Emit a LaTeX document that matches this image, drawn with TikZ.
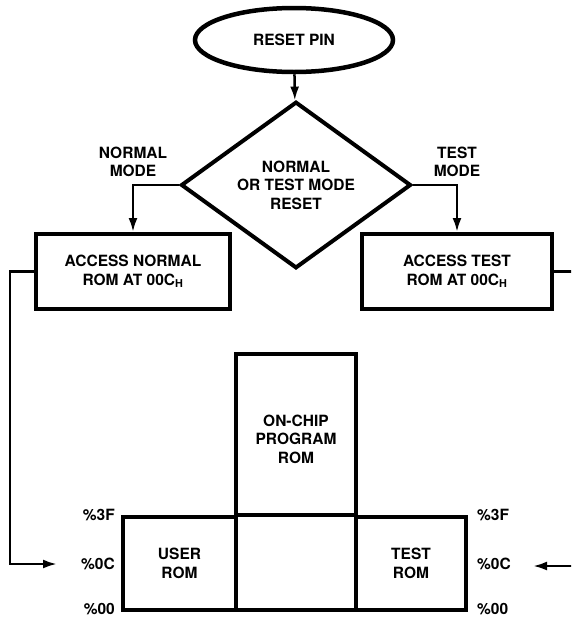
\documentclass[tikz,border=0pt]{standalone}
\usepackage{fontspec}
\setmainfont{TeX Gyre Heros}
\usetikzlibrary{shapes.geometric, arrows.meta, positioning}
\newcommand{\chartfont}{\fontsize{15.5}{18.5}\selectfont\bfseries}

\begin{document}
\begin{tikzpicture}[
    x=1pt, y=-1pt,
    box/.style={rectangle, draw, line width=4pt, align=center, inner sep=0pt, font=\chartfont},
    flow/.style={-{Latex[length=14pt,width=9pt]}, line width=2.5pt},
    tag/.style={font=\chartfont, align=center, inner sep=0pt}
]
\useasboundingbox (0,0) rectangle (571,619);
\clip (0,0) rectangle (571,619);

% flow chart
\node[box, ellipse, line width=4.5pt, minimum width=198pt, minimum height=64pt] (reset) at (294,40) {RESET PIN};
\node[box, diamond, minimum width=230pt, minimum height=132pt] (decide) at (296,185) {NORMAL\\OR TEST MODE\\RESET};
\node[box, minimum width=194pt, minimum height=75pt] (normal) at (133,271.5) {ACCESS NORMAL\\ROM AT 00C\textsubscript{H}};
\node[box, minimum width=190pt, minimum height=75pt] (test) at (457,271.5) {ACCESS TEST\\ROM AT 00C\textsubscript{H}};

\draw[flow] (reset) -- (decide);
\draw[flow] (decide.west) -| node[tag, above=7pt] (normlbl) {NORMAL\\MODE} (normal.north);
\draw[flow] (decide.east) -| node[tag, above=7pt] (testlbl) {TEST\\MODE} (test.north);

% memory map
\node[box, minimum width=120pt, minimum height=256pt] (onchip) at (296,482) {};
\node[tag] (onchiplbl) at (296,439) {ON-CHIP\\PROGRAM\\ROM};
\node[box, minimum width=113pt, minimum height=93pt] (userrom) at (179.5,563.5) {USER\\ROM};
\node[box, minimum width=110pt, minimum height=93pt] (testrom) at (411,563.5) {TEST\\ROM};
\draw[line width=4pt] (userrom.north east) -- (testrom.north west);

\node[tag, left=6pt of userrom.north west] (u3f) {\%3F};
\node[tag, left=6pt of userrom.west] (u0c) {\%0C};
\node[tag, left=6pt of userrom.south west, yshift=3pt] (u00) {\%00};
\node[tag, right=9pt of testrom.north east] (t3f) {\%3F};
\node[tag, right=9pt of testrom.east] (t0c) {\%0C};
\node[tag, right=9pt of testrom.south east, yshift=3pt] (t00) {\%00};

% entry arrows
\coordinate (userin) at (57,564);
\coordinate (testin) at (533,566);
\draw[flow] (normal.west) -- ++(-24,0) |- (userin);
\draw[flow] (test.east) -- ++(24,0) |- (testin);
\end{tikzpicture}
\end{document}
